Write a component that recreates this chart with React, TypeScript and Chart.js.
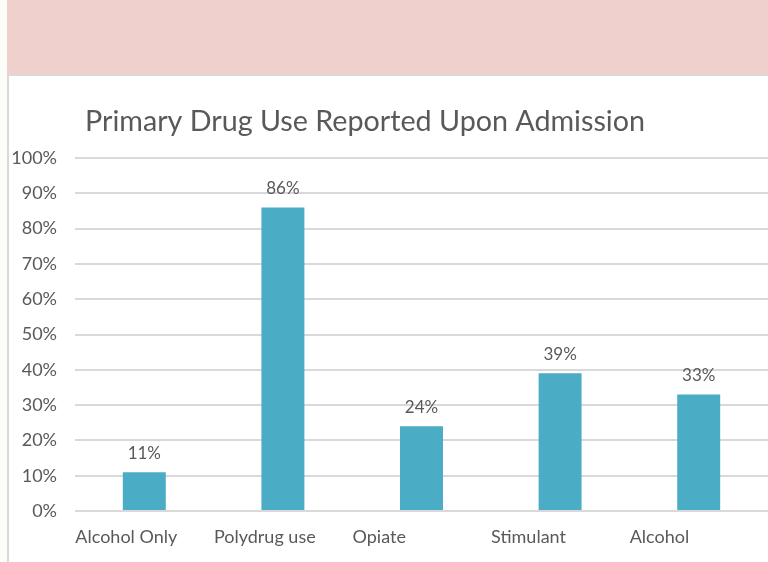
import React, { useEffect, useRef } from "react";
import { Chart, registerables } from "chart.js";

Chart.register(...registerables);

const categories = ["Alcohol Only", "Polydrug use", "Opiate", "Stimulant", "Alcohol"];
const percentValues = [11, 86, 24, 39, 33];
const yTicks = [0, 10, 20, 30, 40, 50, 60, 70, 80, 90, 100];
const titleText = "Primary Drug Use Reported Upon Admission";

const FONT = "Lato, 'Open Sans', sans-serif";
const TEXT = "#595959";

const labelPlugin = {
  id: "valueLabels",
  afterDatasetsDraw(chart: any) {
    const ctx = chart.ctx;
    const meta = chart.getDatasetMeta(0);
    ctx.save();
    ctx.font = `17px ${FONT}`;
    ctx.fillStyle = TEXT;
    ctx.textAlign = "center";
    ctx.textBaseline = "bottom";
    meta.data.forEach((bar: any, i: number) => {
      ctx.fillText(`${percentValues[i]}%`, bar.x, bar.y - 10);
    });
    ctx.restore();
  },
};

const titlePlugin = {
  id: "leftTitle",
  afterDraw(chart: any) {
    const ctx = chart.ctx;
    ctx.save();
    ctx.font = `28.7px ${FONT}`;
    ctx.fillStyle = TEXT;
    ctx.textAlign = "left";
    ctx.textBaseline = "alphabetic";
    ctx.fillText(titleText, 85, 131);
    ctx.restore();
  },
};

export default function App() {
  const ref = useRef<HTMLCanvasElement>(null);
  useEffect(() => {
    if (!ref.current) return;
    const chart = new Chart(ref.current, {
      type: "bar",
      data: {
        labels: categories,
        datasets: [
          {
            data: percentValues,
            backgroundColor: "#4BACC6",
            borderWidth: 0,
            categoryPercentage: 1,
            barPercentage: 0.31,
          },
        ],
      },
      options: {
        animation: false,
        responsive: false,
        maintainAspectRatio: false,
        layout: { padding: { left: 10, top: 158, right: 0, bottom: 10 } },
        plugins: {
          legend: { display: false },
          tooltip: { enabled: false },
          title: { display: false },
        },
        scales: {
          x: {
            grid: { display: false, drawTicks: false },
            border: { display: false },
            ticks: {
              color: TEXT,
              font: { family: FONT, size: 18 },
              align: "start",
              labelOffset: -69,
              padding: 15,
              maxRotation: 0,
              autoSkip: false,
            },
            afterFit(scale: any) {
              scale.height = 41;
              scale.paddingLeft = 0;
              scale.paddingRight = 0;
            },
          },
          y: {
            min: 0,
            max: 100,
            afterBuildTicks(scale: any) {
              scale.ticks = yTicks.map((v) => ({ value: v }));
            },
            grid: { color: "#D9D9D9", lineWidth: 2, drawTicks: false },
            border: { display: false },
            ticks: {
              color: TEXT,
              font: { family: FONT, size: 18 },
              padding: 18,
              callback: (v: any) => `${v}%`,
            },
            afterFit(scale: any) {
              scale.width = 65;
              scale.paddingTop = 0;
              scale.paddingBottom = 0;
            },
          },
        },
      },
      plugins: [labelPlugin, titlePlugin],
    });
    return () => chart.destroy();
  }, []);

  return (
    <div style={{ position: "absolute", left: 0, top: 0, width: 768, height: 562, background: "#FDFDF7", overflow: "hidden" }}>
      <div style={{ position: "absolute", left: 7, top: 0, width: 761, height: 75, background: "#EFD0CC" }} />
      <div style={{ position: "absolute", left: 7, top: 74, width: 761, height: 2, background: "#D9D9D9" }} />
      <div style={{ position: "absolute", left: 9, top: 76, width: 759, height: 486, background: "#FFFFFF" }} />
      <div style={{ position: "absolute", left: 7, top: 74, width: 2, height: 488, background: "#D9D9D9" }} />
      <canvas ref={ref} width={768} height={562} style={{ position: "absolute", left: 0, top: 0 }} />
    </div>
  );
}
